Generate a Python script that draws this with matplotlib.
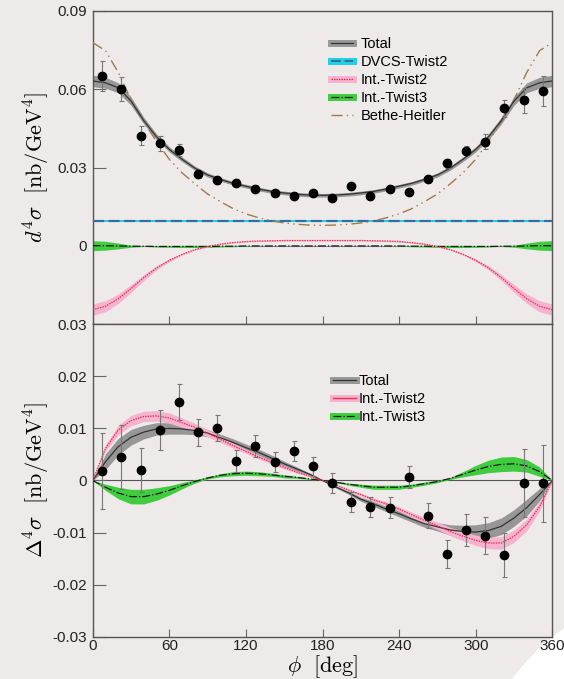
import numpy as np
import matplotlib
matplotlib.use('Agg')
from matplotlib import pyplot as plt
from matplotlib.lines import Line2D
from matplotlib.patches import Ellipse

plt.rcParams['font.family'] = ['Liberation Sans', 'DejaVu Sans']
plt.rcParams['mathtext.fontset'] = 'cm'

# angle grid of the theory curves (deg)
phi_curve = [0, 10, 20, 30, 40, 50, 60, 70, 80, 90, 100, 110, 120, 130, 140, 150, 160, 170, 180,
             190, 200, 210, 220, 230, 240, 250, 260, 270, 280, 290, 300, 310, 320, 330, 340, 350, 360]
# bin centres of the data (deg)
phi_data = [7.5, 22.5, 37.5, 52.5, 67.5, 82.5, 97.5, 112.5, 127.5, 142.5, 157.5, 172.5,
            187.5, 202.5, 217.5, 232.5, 247.5, 262.5, 277.5, 292.5, 307.5, 322.5, 337.5, 352.5]

# ---- upper panel: unpolarised cross section ----
xs_data = [0.0650, 0.0602, 0.0423, 0.0393, 0.0367, 0.0275, 0.0252, 0.0243, 0.0220, 0.0203, 0.0190, 0.0204,
           0.0182, 0.0229, 0.0192, 0.0220, 0.0207, 0.0256, 0.0316, 0.0364, 0.0400, 0.0527, 0.0558, 0.0593]
xs_err = [0.0057, 0.0046, 0.0035, 0.0030, 0.0022, 0.0016, 0.0014, 0.0013, 0.0012, 0.0011, 0.0011, 0.0011,
          0.0011, 0.0011, 0.0011, 0.0011, 0.0011, 0.0012, 0.0016, 0.0017, 0.0027, 0.0033, 0.0047, 0.0058]

xs_total = [0.0632, 0.0625, 0.0606, 0.0555, 0.0480, 0.0418, 0.0370, 0.0332, 0.0298, 0.0272, 0.0255, 0.0240,
            0.0229, 0.0218, 0.0209, 0.0203, 0.0198, 0.0195, 0.0194, 0.0195, 0.0198, 0.0203, 0.0209, 0.0218,
            0.0229, 0.0240, 0.0255, 0.0272, 0.0298, 0.0332, 0.0370, 0.0418, 0.0480, 0.0555, 0.0606, 0.0625, 0.0632]
xs_total_unc = [0.0022, 0.0021, 0.0019, 0.0016, 0.0013, 0.0011, 0.0010, 0.0009, 0.0008, 0.0008, 0.0007, 0.0007,
                0.0007, 0.0007, 0.0007, 0.0007, 0.0007, 0.0007, 0.0007, 0.0007, 0.0007, 0.0007, 0.0007, 0.0007,
                0.0007, 0.0007, 0.0007, 0.0008, 0.0008, 0.0009, 0.0010, 0.0011, 0.0013, 0.0016, 0.0019, 0.0021, 0.0022]
xs_dvcs = 0.0096
xs_dvcs_unc = 0.0005
xs_int2 = [-0.0244, -0.0231, -0.0202, -0.0163, -0.0121, -0.0084, -0.0055, -0.0032, -0.0014, -0.0002, 0.0007, 0.0013,
           0.0017, 0.0019, 0.0020, 0.0021, 0.0021, 0.0021, 0.0021, 0.0021, 0.0021, 0.0021, 0.0020, 0.0019,
           0.0017, 0.0013, 0.0007, -0.0002, -0.0014, -0.0032, -0.0055, -0.0084, -0.0121, -0.0163, -0.0202, -0.0231, -0.0244]
xs_int2_unc = [0.0022, 0.0021, 0.0018, 0.0015, 0.0011, 0.0008, 0.0005, 0.0003, 0.0002, 0.0002, 0.0002, 0.0002,
               0.0002, 0.0002, 0.0002, 0.0002, 0.0002, 0.0002, 0.0002, 0.0002, 0.0002, 0.0002, 0.0002, 0.0002,
               0.0002, 0.0002, 0.0002, 0.0002, 0.0002, 0.0003, 0.0005, 0.0008, 0.0011, 0.0015, 0.0018, 0.0021, 0.0022]
xs_int3 = [0.0001, 0.0001, 0.0, -0.0001, -0.0001, -0.0002, -0.0002, -0.0002, -0.0002, -0.0002, -0.0001, -0.0001,
           0.0, 0.0, 0.0, 0.0, 0.0, 0.0, 0.0, 0.0, 0.0, 0.0, 0.0, 0.0,
           0.0, -0.0001, -0.0001, -0.0002, -0.0002, -0.0002, -0.0002, -0.0002, -0.0001, -0.0001, 0.0, 0.0001, 0.0001]
xs_int3_unc = [0.0019, 0.0017, 0.0011, 0.0004, 0.0001, 0.0002, 0.0003, 0.0004, 0.0004, 0.0004, 0.0003, 0.0002,
               0.0001, 0.0, 0.0, 0.0, 0.0, 0.0, 0.0, 0.0, 0.0, 0.0, 0.0, 0.0,
               0.0001, 0.0002, 0.0003, 0.0004, 0.0004, 0.0004, 0.0003, 0.0002, 0.0001, 0.0004, 0.0011, 0.0017, 0.0019]
xs_bh = [0.0779, 0.0748, 0.0665, 0.0560, 0.0475, 0.0400, 0.0332, 0.0280, 0.0238, 0.0199, 0.0170, 0.0143,
         0.0123, 0.0108, 0.0096, 0.0088, 0.0083, 0.0080, 0.0079, 0.0080, 0.0083, 0.0088, 0.0096, 0.0108,
         0.0123, 0.0143, 0.0170, 0.0199, 0.0238, 0.0280, 0.0332, 0.0400, 0.0475, 0.0560, 0.0665, 0.0748, 0.0779]

# ---- lower panel: helicity difference ----
dxs_data = [0.0019, 0.0045, 0.0020, 0.0097, 0.0151, 0.0093, 0.0100, 0.0038, 0.0067, 0.0036, 0.0056, 0.0027,
            -0.0005, -0.0041, -0.0051, -0.0052, 0.0006, -0.0068, -0.0141, -0.0095, -0.0106, -0.0143, -0.0005, -0.0005]
dxs_err = [0.0073, 0.0062, 0.0043, 0.0038, 0.0034, 0.0026, 0.0025, 0.0021, 0.0021, 0.0019, 0.0019, 0.0019,
           0.0019, 0.0019, 0.0019, 0.0020, 0.0021, 0.0024, 0.0027, 0.0031, 0.0035, 0.0042, 0.0066, 0.0074]

dxs_total = [0.0, 0.0036, 0.0065, 0.0083, 0.0093, 0.0099, 0.0100, 0.0099, 0.0096, 0.0091, 0.0082, 0.0073,
             0.0063, 0.0054, 0.0043, 0.0032, 0.0022, 0.0012, 0.0, -0.0012, -0.0023, -0.0036, -0.0045, -0.0055,
             -0.0064, -0.0074, -0.0083, -0.0089, -0.0095, -0.0098, -0.0099, -0.0096, -0.0088, -0.0072, -0.0052, -0.0027, 0.0]
dxs_total_unc = [0.0, 0.0015, 0.0016, 0.0015, 0.0013, 0.0012, 0.0011, 0.0010, 0.0008, 0.0007, 0.0007, 0.0007,
                 0.0007, 0.0006, 0.0006, 0.0005, 0.0004, 0.0002, 0.0, 0.0002, 0.0003, 0.0004, 0.0005, 0.0005,
                 0.0006, 0.0006, 0.0007, 0.0008, 0.0010, 0.0012, 0.0014, 0.0015, 0.0016, 0.0016, 0.0016, 0.0012, 0.0]
dxs_int2 = [0.0, 0.0062, 0.0097, 0.0115, 0.0123, 0.0124, 0.0120, 0.0111, 0.0102, 0.0091, 0.0079, 0.0067,
            0.0056, 0.0045, 0.0035, 0.0025, 0.0016, 0.0008, 0.0, -0.0008, -0.0018, -0.0027, -0.0037, -0.0045,
            -0.0055, -0.0066, -0.0077, -0.0087, -0.0098, -0.0107, -0.0115, -0.0120, -0.0120, -0.0107, -0.0085, -0.0050, 0.0]
dxs_int2_unc = [0.0, 0.0006, 0.0009, 0.0010, 0.0010, 0.0010, 0.0010, 0.0009, 0.0008, 0.0007, 0.0006, 0.0005,
                0.0004, 0.0004, 0.0003, 0.0003, 0.0002, 0.0001, 0.0, 0.0001, 0.0002, 0.0003, 0.0003, 0.0004,
                0.0004, 0.0005, 0.0006, 0.0007, 0.0008, 0.0009, 0.0010, 0.0011, 0.0012, 0.0012, 0.0011, 0.0009, 0.0]
dxs_int3 = [0.0, -0.0013, -0.0024, -0.0031, -0.0031, -0.0026, -0.0019, -0.0010, -0.0002, 0.0005, 0.0010, 0.0013,
            0.0014, 0.0013, 0.0011, 0.0008, 0.0006, 0.0003, 0.0, -0.0003, -0.0007, -0.0010, -0.0013, -0.0013,
            -0.0013, -0.0010, -0.0006, -0.0002, 0.0004, 0.0012, 0.0020, 0.0027, 0.0031, 0.0032, 0.0028, 0.0017, 0.0]
dxs_int3_unc = [0.0, 0.0006, 0.0011, 0.0014, 0.0014, 0.0012, 0.0009, 0.0006, 0.0003, 0.0002, 0.0003, 0.0004,
                0.0004, 0.0004, 0.0003, 0.0003, 0.0002, 0.0001, 0.0, 0.0001, 0.0002, 0.0003, 0.0004, 0.0004,
                0.0004, 0.0003, 0.0003, 0.0002, 0.0002, 0.0005, 0.0009, 0.0012, 0.0014, 0.0014, 0.0012, 0.0009, 0.0]

top_yticks = [-0.03, 0.0, 0.03, 0.06, 0.09]
top_yticklabels = ['0.03', '0', '0.03', '0.06', '0.09']
bot_yticks = [-0.03, -0.02, -0.01, 0.0, 0.01, 0.02]
bot_yticklabels = ['-0.03', '-0.02', '-0.01', '0', '0.01', '0.02']
xticks = [0, 60, 120, 180, 240, 300, 360]

bg = '#efeaea'
c_total_band, c_total_line = '#979797', '#333333'
c_cyan, c_blue = '#22d0e0', '#2f6fa8'
c_pink, c_red = '#f5b3cf', '#f2304f'
c_green, c_dash = '#3fcc3f', '#1a1a1a'
c_bh = '#9c7c4c'
bh_style = (0, (8, 3, 1, 3, 1, 3))
red_dots = (0, (1.2, 0.8))

phi = np.array(phi_curve)


def band(ax, centre, unc, fc, z=2):
    centre = np.asarray(centre)
    unc = np.asarray(unc)
    ax.fill_between(phi, centre - unc, centre + unc, color=fc, lw=0, zorder=z)


def style_axes(ax):
    ax.set_facecolor(bg)
    ax.set_xlim(0, 360)
    for s in ax.spines.values():
        s.set_color('#555555')
        s.set_linewidth(1.0)
    ax.tick_params(axis='y', direction='in', length=9.5, width=0.8, color='#666666',
                   labelsize=11, labelcolor='#222222', pad=4)
    ax.tick_params(axis='x', direction='in', length=6, width=0.8, color='#666666',
                   labelsize=11, labelcolor='#222222', pad=2)
    ax.set_xticks(xticks)


fig = plt.figure(figsize=(5.64, 6.79), dpi=100)
fig.patch.set_facecolor(bg)

# white page corner at the bottom right (behind everything)
fig.patches.append(Ellipse((700 / 564, 1 - 820 / 679), 2 * 235 / 564, 2 * 235 / 679,
                           transform=fig.transFigure, facecolor='white', edgecolor='none', zorder=-5))

ax1 = fig.add_axes([0.1644, 0.5224, 0.8149, 0.4614])
ax2 = fig.add_axes([0.1644, 0.0623, 0.8149, 0.4601])

# upper panel
style_axes(ax1)
ax1.axhline(0, color='#888888', lw=0.8, zorder=1)
band(ax1, xs_int3, xs_int3_unc, c_green)
ax1.plot(phi, xs_int3, color=c_dash, lw=0.9, ls='-.', zorder=3)
band(ax1, xs_int2, xs_int2_unc, c_pink)
ax1.plot(phi, xs_int2, color=c_red, lw=0.9, ls=red_dots, zorder=3)
ax1.fill_between(phi, np.full(phi.shape, xs_dvcs - xs_dvcs_unc), np.full(phi.shape, xs_dvcs + xs_dvcs_unc),
                 color=c_cyan, lw=0, zorder=2)
ax1.plot(phi, np.full(phi.shape, xs_dvcs), color=c_blue, lw=1.6, ls=(0, (5, 2)), zorder=3)
ax1.plot(phi, xs_bh, color=c_bh, lw=1.0, ls=bh_style, zorder=3)
band(ax1, xs_total, xs_total_unc, c_total_band)
ax1.plot(phi, xs_total, color=c_total_line, lw=0.9, zorder=3)
ax1.errorbar(phi_data, xs_data, yerr=xs_err, fmt='o', color='black', ms=6,
             ecolor='#777777', elinewidth=0.8, capsize=1.8, capthick=0.8, zorder=5)
ax1.set_ylim(-0.03, 0.09)
ax1.set_yticks(top_yticks)
ax1.set_yticklabels(top_yticklabels)
ax1.set_xticklabels([])
ax1.set_ylabel(r'$d^4\sigma\ \ [\mathrm{nb/GeV}^4]$', fontsize=16)
ax1.yaxis.set_label_coords(-0.088, 0.5)

h_total = (Line2D([], [], color=c_total_band, lw=5), Line2D([], [], color=c_total_line, lw=0.9))
h_dvcs = (Line2D([], [], color=c_cyan, lw=5), Line2D([], [], color=c_blue, lw=1.4, ls=(0, (5, 2))))
h_int2 = (Line2D([], [], color=c_pink, lw=5), Line2D([], [], color=c_red, lw=0.9, ls=red_dots))
h_int3 = (Line2D([], [], color=c_green, lw=5), Line2D([], [], color=c_dash, lw=0.9, ls='-.'))
h_bh = Line2D([], [], color=c_bh, lw=1.0, ls=bh_style)
ax1.legend([h_total, h_dvcs, h_int2, h_int3, h_bh],
           ['Total', 'DVCS-Twist2', 'Int.-Twist2', 'Int.-Twist3', 'Bethe-Heitler'],
           loc='upper left', bbox_to_anchor=(0.518, 0.918), frameon=False, fontsize=10.5,
           handlelength=1.55, handletextpad=0.5, labelspacing=0.28, borderpad=0, borderaxespad=0)

# lower panel
style_axes(ax2)
ax2.axhline(0, color='#555555', lw=0.8, zorder=1)
band(ax2, dxs_int3, dxs_int3_unc, c_green)
ax2.plot(phi, dxs_int3, color=c_dash, lw=0.9, ls='-.', zorder=3)
band(ax2, dxs_total, dxs_total_unc, c_total_band)
ax2.plot(phi, dxs_total, color=c_total_line, lw=0.9, zorder=3)
band(ax2, dxs_int2, dxs_int2_unc, c_pink)
ax2.plot(phi, dxs_int2, color=c_red, lw=0.9, ls=red_dots, zorder=3)
ax2.errorbar(phi_data, dxs_data, yerr=dxs_err, fmt='o', color='black', ms=6,
             ecolor='#777777', elinewidth=0.8, capsize=1.8, capthick=0.8, zorder=5)
ax2.set_ylim(-0.03, 0.03)
ax2.set_yticks(bot_yticks)
ax2.set_yticklabels(bot_yticklabels)
ax2.set_xticklabels([str(t) for t in xticks])
ax2.set_ylabel(r'$\Delta^4\sigma\ \ [\mathrm{nb/GeV}^4]$', fontsize=16)
ax2.yaxis.set_label_coords(-0.088, 0.5)
ax2.set_xlabel(r'$\phi\ \ [\mathrm{deg}]$', fontsize=16, labelpad=0)

h_int2b = (Line2D([], [], color=c_pink, lw=5), Line2D([], [], color=c_red, lw=1.0))
ax2.legend([h_total, h_int2b, h_int3], ['Total', 'Int.-Twist2', 'Int.-Twist3'],
           loc='upper left', bbox_to_anchor=(0.523, 0.840), frameon=False, fontsize=10.5,
           handlelength=1.55, handletextpad=0.2, labelspacing=0.26, borderpad=0, borderaxespad=0)

fig.savefig('out.png', dpi=100, facecolor=bg)
